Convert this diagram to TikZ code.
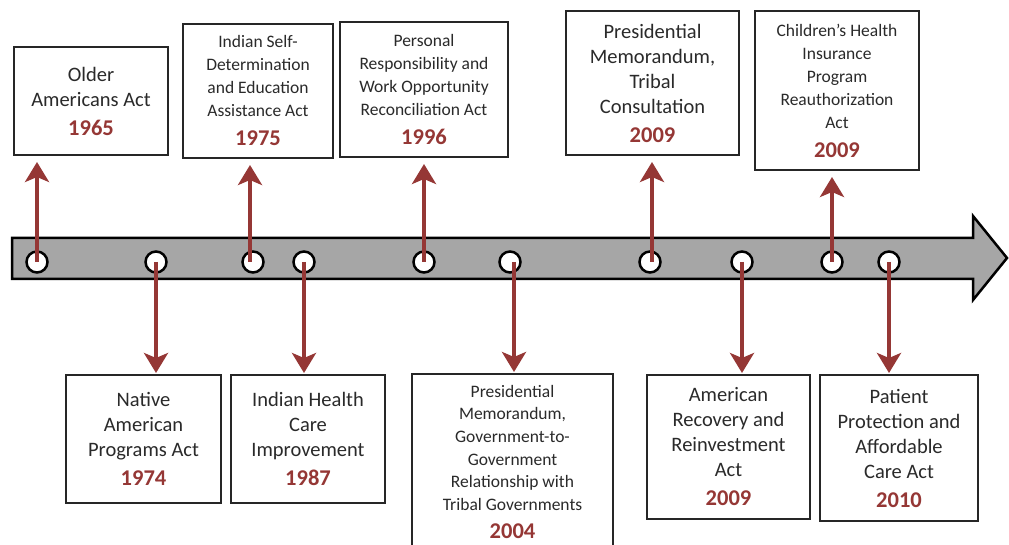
\documentclass[tikz,border=0pt]{standalone}
\usepackage{fontspec}
\setmainfont{Carlito}
\usetikzlibrary{arrows.meta,calc}
\definecolor{yr}{HTML}{953735}
\definecolor{txt}{HTML}{2A2A2A}
\definecolor{conncol}{HTML}{953735}
\definecolor{bodyfill}{HTML}{A6A6A6}
\newcommand{\bigtxt}{\fontsize{20.5}{25}\selectfont}
\newcommand{\smalltxt}{\fontsize{17.5}{23}\selectfont}
\newcommand{\govtxt}{\fontsize{17.5}{22.6}\selectfont}
\newcommand{\yrB}[1]{\\[4pt]{\fontsize{22.5}{25}\selectfont\bfseries\color{yr}#1}}
\newcommand{\yrS}[1]{\\[6pt]{\fontsize{22.5}{25}\selectfont\bfseries\color{yr}#1}}
\tikzset{
  evbox/.style={draw=black!85, line width=2pt, fill=white, align=center, text=txt, inner sep=0pt},
  dot/.style={circle, draw=black, line width=2.5pt, fill=white, minimum size=21pt, inner sep=0pt},
  conn/.style={draw=conncol, line width=4.5pt, -{Stealth[length=20pt,width=24pt,inset=5pt]}},
}
\begin{document}
\begin{tikzpicture}[x=1pt,y=-1pt]
\useasboundingbox (0,0) rectangle (1009,545);
% timeline body
\draw[line width=2.5pt, fill=bodyfill, line join=miter] (12,238) -- (973,238) -- (973,216) -- (1007,258) -- (973,300) -- (973,279) -- (12,279) -- cycle;
% dots
\node[dot] (c1) at (37,262) {};
\node[dot] (c2) at (156,262) {};
\node[dot] (c3) at (253,262) {};
\node[dot] (c4) at (304,262) {};
\node[dot] (c5) at (424,262) {};
\node[dot] (c6) at (510,262) {};
\node[dot] (c7) at (650,262) {};
\node[dot] (c8) at (742,262) {};
\node[dot] (c9) at (832,262) {};
\node[dot] (c10) at (889,262) {};
% top boxes
\node[evbox, minimum width=154pt, minimum height=108pt, font=\bigtxt] (b1) at (91,101)
  {Older\\Americans Act\yrB{1965}};
\node[evbox, minimum width=150pt, minimum height=134pt, font=\smalltxt] (b2) at (258,91)
  {Indian Self-\\Determination\\and Education\\Assistance Act\yrS{1975}};
\node[evbox, minimum width=168pt, minimum height=135pt, font=\smalltxt] (b3) at (424,89.5)
  {Personal\\Responsibility and\\Work Opportunity\\Reconciliation Act\yrS{1996}};
\node[evbox, minimum width=173pt, minimum height=144pt, font=\bigtxt] (b4) at (652.5,83)
  {Presidential\\Memorandum,\\Tribal\\Consultation\yrB{2009}};
\node[evbox, minimum width=164pt, minimum height=159pt, font=\smalltxt] (b5) at (837,90.5)
  {Children’s Health\\Insurance\\Program\\Reauthorization\\Act\yrS{2009}};
% bottom boxes
\node[evbox, minimum width=155pt, minimum height=128pt, font=\bigtxt] (b6) at (143.5,439)
  {Native\\American\\Programs Act\yrB{1974}};
\node[evbox, minimum width=154pt, minimum height=128pt, font=\bigtxt] (b7) at (308,439)
  {Indian Health\\Care\\Improvement\yrB{1987}};
\node[evbox, minimum width=201pt, minimum height=176pt, font=\govtxt] (b8) at (512.5,462)
  {Presidential\\Memorandum,\\Government-to-\\Government\\Relationship with\\Tribal Governments\yrS{2004}};
\node[evbox, minimum width=163pt, minimum height=144pt, font=\bigtxt] (b9) at (728.5,447)
  {American\\Recovery and\\Reinvestment\\Act\yrB{2009}};
\node[evbox, minimum width=158pt, minimum height=146pt, font=\bigtxt] (b10) at (899,448)
  {Patient\\Protection and\\Affordable\\Care Act\yrB{2010}};
% connectors
\draw[conn, shorten >=6pt] (c1.center) -- (c1.center |- b1.south);
\draw[conn, shorten >=6pt] ($(c3.center)+(-3,0)$) -- ($(c3.center |- b2.south)+(-3,0)$);
\draw[conn, shorten >=6pt] (c5.center) -- (c5.center |- b3.south);
\draw[conn, shorten >=6pt] ($(c7.center)+(2,0)$) -- ($(c7.center |- b4.south)+(2,0)$);
\draw[conn, shorten >=6pt] (c9.center) -- (c9.center |- b5.south);
\draw[conn, shorten >=1pt] (c2.center) -- (c2.center |- b6.north);
\draw[conn, shorten >=1pt] (c4.center) -- (c4.center |- b7.north);
\draw[conn, shorten >=1pt] ($(c6.center)+(4,0)$) -- ($(c6.center |- b8.north)+(4,0)$);
\draw[conn, shorten >=1pt] (c8.center) -- (c8.center |- b9.north);
\draw[conn, shorten >=1pt] (c10.center) -- (c10.center |- b10.north);
\end{tikzpicture}
\end{document}
